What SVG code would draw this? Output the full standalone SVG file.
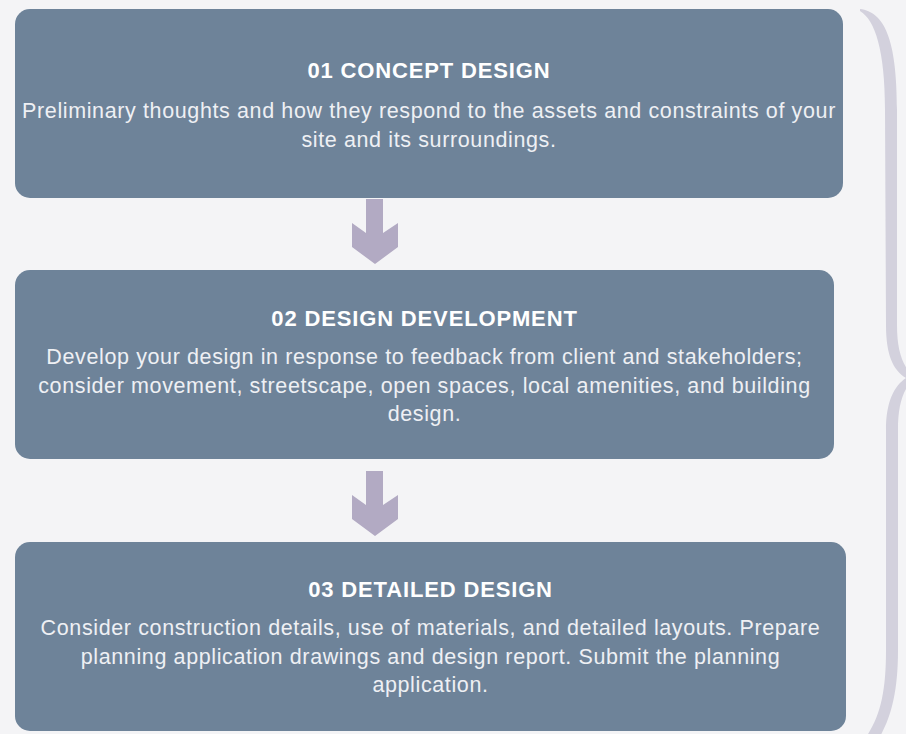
<svg xmlns="http://www.w3.org/2000/svg" width="906" height="734" viewBox="0 0 906 734">
<style>
.box{fill:#6e8399}
.title{font-family:"Liberation Sans",Arial,sans-serif;font-weight:bold;font-size:22px;letter-spacing:0.85px;fill:#ffffff;text-anchor:middle}
.body{font-family:"Liberation Sans",Arial,sans-serif;font-size:21.5px;letter-spacing:0.62px;fill:#eef0f4;text-anchor:middle}
.arrow{fill:#b2aac3}
.brace{fill:#d3d1dd}
</style>
<rect width="906" height="734" fill="#f4f4f6"/>
<g id="node1">
<rect class="box" x="15" y="9" width="828" height="189" rx="15"/>
<text class="title" x="429" y="78">01 CONCEPT DESIGN</text>
<text class="body" x="429" y="118">Preliminary thoughts and how they respond to the assets and constraints of your</text>
<text class="body" x="429" y="146.5">site and its surroundings.</text>
</g>
<g id="node2">
<rect class="box" x="15" y="270" width="819" height="189" rx="15"/>
<text class="title" x="424.5" y="326">02 DESIGN DEVELOPMENT</text>
<text class="body" x="424.5" y="364">Develop your design in response to feedback from client and stakeholders;</text>
<text class="body" x="424.5" y="392.5">consider movement, streetscape, open spaces, local amenities, and building</text>
<text class="body" x="424.5" y="421">design.</text>
</g>
<g id="node3">
<rect class="box" x="15" y="542" width="831" height="189" rx="15"/>
<text class="title" x="430.5" y="597">03 DETAILED DESIGN</text>
<text class="body" x="430.5" y="635">Consider construction details, use of materials, and detailed layouts. Prepare</text>
<text class="body" x="430.5" y="663.5">planning application drawings and design report. Submit the planning</text>
<text class="body" x="430.5" y="692">application.</text>
</g>
<g id="connectors">
<polygon class="arrow" points="366,199 383,199 383,233 398,223 398,247 375,264 352,247 352,223 366,233"/>
<polygon class="arrow" points="366,471 383,471 383,505 398,495 398,519 375,536 352,519 352,495 366,505"/>
</g>
<g id="brace">
<path class="brace" d="M860,9 C884,12 897,38 897,110 L897,325 C897,352 903,366 914,378 C903,390 898,404 898,430 L898,650 C898,695 890,720 878,740 L864,740 C880,718 886,693 886,650 L886,430 C886,402 894,386 906,378 C893,370 886,355 886,325 L885,110 C885,50 875,20 860,11 Z"/>
</g>
</svg>
